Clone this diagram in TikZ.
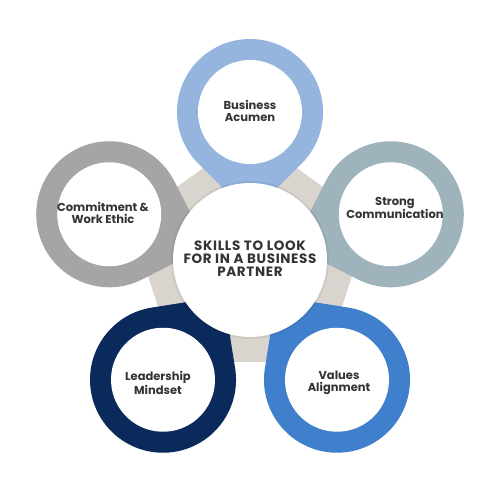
\documentclass[tikz,border=0pt]{standalone}
\usepackage{fontspec}
\setmainfont{Poppins}
\definecolor{cA}{HTML}{95B5DF}
\definecolor{cB}{HTML}{9FB3BD}
\definecolor{cC}{HTML}{3F7FCB}
\definecolor{cD}{HTML}{0B2A5C}
\definecolor{cE}{HTML}{A5A5A5}
\definecolor{beige}{HTML}{D9D4CD}
\definecolor{txt}{HTML}{333333}
\tikzset{
  lbl/.style={align=center,text=txt,font=\fontsize{11.5}{11.5}\selectfont\bfseries,inner sep=0pt},
  ctr/.style={align=center,text=txt,font=\fontsize{13.5}{12.9}\selectfont\bfseries\addfontfeatures{LetterSpace=5},inner sep=0pt},
}
\newcommand{\dropring}[3]{% angle, colour, name
  \begin{scope}[shift={($(O)+(#1:148)$)}, rotate=#1+180]
    \fill[#2] (45:73) arc[start angle=45,end angle=315,radius=73] -- (103.2,0) -- cycle;
    \fill[white] (0,0) circle[radius=52];
  \end{scope}
  \coordinate (#3) at ($(O)+(#1:148)$);
}
\usetikzlibrary{calc}
\begin{document}
\begin{tikzpicture}[x=1pt,y=1pt]
\useasboundingbox (0,0) rectangle (500,500);
\fill[white] (0,0) rectangle (500,500);
\coordinate (O) at (250,240);
\fill[beige] (90:126) ++(250,240) -- ($(O)+(18:126)$) -- ($(O)+(-54:126)$) -- ($(O)+(-126:126)$) -- ($(O)+(162:126)$) -- cycle;
\dropring{90}{cA}{ra}
\dropring{18}{cB}{rb}
\dropring{-54}{cC}{rc}
\dropring{-126}{cD}{rd}
\dropring{162}{cE}{re}
\fill[black, opacity=0.06] (O) circle[radius=79];
\fill[white] (O) circle[radius=77];
\node[ctr] (c) at (250,241) {SKILLS TO LOOK\\FOR IN A BUSINESS\\PARTNER};
\node[lbl] (la) at (250,389) {Business\\Acumen};
\node[lbl] (lb) at (395,292) {Strong\\Communication};
\node[lbl] (lc) at (339,117) {Values\\Alignment};
\node[lbl] (ld) at (158,117) {Leadership\\Mindset};
\node[lbl] (le) at (103,287) {Commitment \&\\Work Ethic};
\end{tikzpicture}
\end{document}
